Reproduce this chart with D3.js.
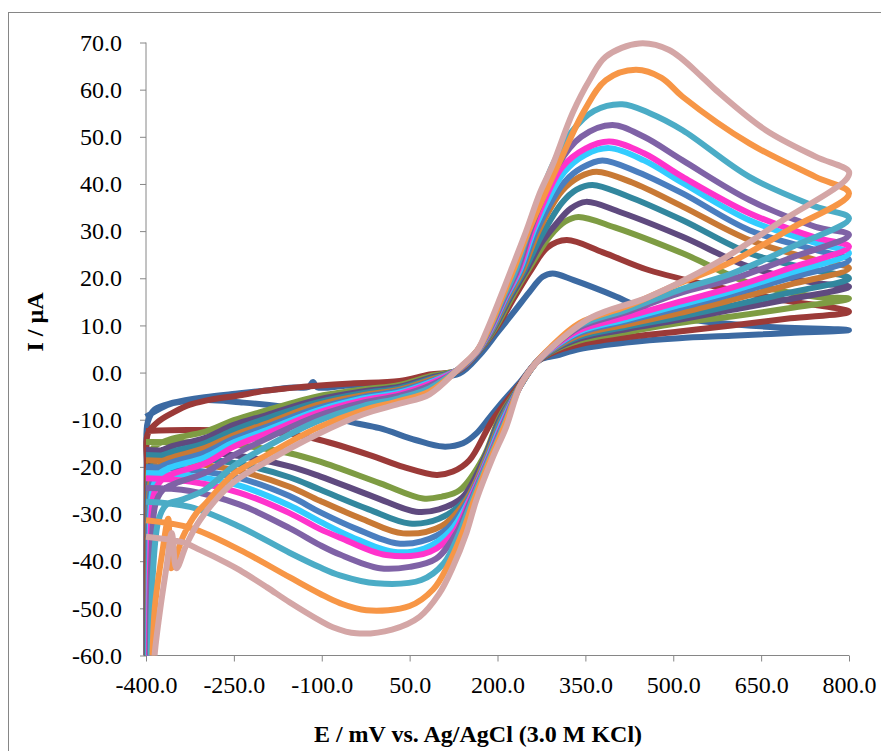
<!DOCTYPE html>
<html>
<head>
<meta charset="utf-8">
<script src="https://cdn.jsdelivr.net/npm/d3@7"></script>
<style>
  body { margin: 0; background: #fff; }
  .axis text { font-family: "Liberation Serif", "Times New Roman", serif; font-size: 24px; fill: #000; }
  .axis path, .axis line { stroke: #868686; }
  .title { font-family: "Liberation Serif", "Times New Roman", serif; font-size: 24px; font-weight: bold; }
</style>
</head>
<body>
<div class="wrapper"></div>
<script>
// cyclic voltammograms, one array of [E (mV), I (uA)] per scan, forward then reverse sweep
var scan1 = [[-399.5,-66],[-399,-20],[-397,-10.5],[-385,-7.8],[-354,-6.4],[-300,-5.2],[-240,-4.4],[-194,-3.8],[-155,-3.2],[-122,-3.0],[-115,-2.0],[-108,-3.1],[-60,-2.8],[0,-2.5],[33,-2.2],[84,-1.0],[135,-0.2],[170,3.8],[200,8.5],[232,13.5],[254,17],[277,20.3],[294,21.0],[330,19.6],[403,16.1],[460,13.0],[545,11.0],[650,9.8],[800,9.0],
  [700,8.4],[600,7.8],[510,7.3],[420,6.4],[340,5.0],[300,3.6],[272,2.7],[238,-2.1],[203,-7.0],[186,-9.6],[164,-12.9],[141,-15],[107,-15.7],[60,-14.3],[-1,-11.8],[-50,-10.5],[-100,-8.8],[-170,-7.2],[-240,-6.3],[-297,-5.8],[-354,-6.5],[-400,-9.4]];
var scan2 = [[-399,-66],[-398.5,-20],[-397,-13],[-380,-10.5],[-354,-8.5],[-325,-6.8],[-300,-6.0],[-240,-4.8],[-194,-3.8],[-155,-3.3],[-109,-2.8],[-50,-2.3],[33,-1.8],[84,-0.4],[135,0.5],[166,4.2],[196,9],[229,16],[257,21.7],[285,26.5],[318,28.1],[380,25.5],[459,21.7],[573,18.2],[686,15.4],[800,12.9],
  [700,11.5],[600,10.0],[510,8.7],[420,7.5],[340,6.0],[290,4.0],[265,2.0],[238,-2.5],[192,-10],[152,-18.6],[124,-21],[96,-21.7],[39,-20],[-18,-17.5],[-103,-14.3],[-155,-13.0],[-250,-12.3],[-330,-12.2],[-400,-12.4]];
var scan3 = [[-398,-66],[-397,-40],[-395,-20],[-388,-16],[-360,-14.2],[-300,-12.6],[-250,-10.1],[-194,-8],[-109,-5.1],[-30,-3.6],[33,-2.6],[84,-0.8],[135,0.6],[166,4.3],[194,9],[225,16],[252,21.7],[290,29],[315,32],[338,33],[400,30.8],[516,25.3],[630,19],[743,16.1],[800,15.7],
  [700,13.7],[600,11.9],[510,10.5],[420,8.6],[340,6.8],[290,4.3],[265,2.0],[238,-2.8],[204,-9.4],[176,-18],[135,-25],[105,-26.3],[73,-26.7],[0,-23.5],[-103,-18.9],[-155,-17.1],[-240,-15.4],[-325,-14.8],[-400,-14.7]];
var scan4 = [[-398,-66],[-396.5,-40],[-394,-21],[-385,-17.5],[-360,-15.8],[-300,-13.9],[-250,-11.1],[-194,-9],[-109,-5.8],[-30,-4.0],[33,-3.0],[84,-1.1],[135,0.6],[166,4.4],[192,9],[222,16],[249,21.7],[275,27.5],[300,31.5],[325,34.8],[351,36.2],[410,34],[516,28.8],[630,22.4],[743,19],[800,18.2],
  [700,15.6],[600,13.3],[510,11.2],[420,9.2],[340,7.2],[290,4.4],[265,2.0],[238,-3],[205,-9.6],[178,-18],[140,-26.5],[100,-29],[61,-29.5],[-10,-26.4],[-103,-22],[-155,-19.9],[-240,-17.7],[-325,-16.8],[-400,-16.4]];
var scan5 = [[-397.5,-66],[-396,-40],[-393,-22],[-383,-18.5],[-360,-17],[-300,-15],[-250,-12.2],[-194,-9.7],[-109,-6.4],[-30,-4.4],[33,-3.3],[84,-1.4],[135,0.7],[166,4.4],[191,9],[220,16],[246,21.7],[275,29],[310,36],[335,38.8],[362,39.8],[420,37.5],[516,32.3],[630,25.3],[743,21.7],[800,20],
  [700,17],[600,14.2],[510,11.8],[420,9.7],[340,7.6],[290,4.5],[265,2.0],[238,-3],[206,-9.8],[180,-18],[145,-27],[100,-31],[50,-32],[-20,-29],[-103,-24.8],[-155,-22.2],[-240,-19.4],[-325,-18],[-400,-17.5]];
var scan6 = [[-397,-66],[-395.5,-40],[-392,-23],[-382,-19.5],[-360,-18.2],[-300,-16],[-250,-13.3],[-194,-10.8],[-109,-6.9],[-30,-4.8],[33,-3.6],[84,-1.6],[135,0.7],[166,4.5],[190,9],[218,16],[243,21.7],[270,30],[310,38.5],[340,41.5],[369,42.6],[430,40.3],[516,35.2],[630,28.1],[743,23.9],[800,22.1],
  [700,18.7],[600,15.4],[510,12.6],[420,10.2],[340,8.0],[290,4.6],[265,2.0],[238,-3],[207,-10],[181,-18],[147,-27],[105,-32.5],[39,-34.1],[-30,-31.1],[-103,-27.2],[-155,-24.2],[-240,-20.9],[-325,-19.2],[-400,-18.6]];
var scan7 = [[-396.5,-66],[-395,-40],[-391,-24],[-380,-20.5],[-360,-19.2],[-300,-17],[-250,-14],[-194,-11.5],[-109,-7.6],[-30,-5.2],[33,-3.9],[84,-1.9],[135,0.7],[166,4.5],[189,9],[216,16],[240,21.7],[268,30.5],[315,40.5],[345,43.5],[379,45],[440,42.5],[516,38],[630,30.2],[743,26],[800,23.9],
  [700,20.1],[600,16.6],[510,13.7],[420,10.9],[340,8.4],[290,4.7],[265,2.0],[238,-3],[208,-10.1],[183,-18],[150,-27],[115,-33],[70,-35.8],[27,-36.2],[-40,-33.2],[-103,-29.6],[-155,-26.2],[-240,-22.4],[-325,-20.6],[-400,-20]];
var scan8 = [[-396,-66],[-394,-40],[-389,-25],[-378,-21.5],[-360,-20.2],[-300,-18],[-250,-14.8],[-194,-12.2],[-109,-8.1],[-30,-5.5],[33,-4.2],[84,-2.1],[135,0.8],[166,4.6],[188,9],[214,16],[238,21.7],[265,31],[314,42.5],[350,46.2],[391,47.6],[450,45],[516,40.2],[630,32.3],[743,27.5],[800,25.3],
  [700,21.2],[600,17.3],[510,14.3],[420,11.3],[340,8.7],[290,4.8],[265,2.0],[238,-3],[209,-10.3],[184,-18],[152,-27],[120,-33.5],[75,-37.3],[22,-38],[-50,-34.8],[-103,-31.6],[-155,-28.2],[-240,-24],[-325,-21.9],[-400,-21.3]];
var scan9 = [[-395,-66],[-393,-40],[-387,-26],[-375,-23],[-355,-21.5],[-300,-19.3],[-250,-15.7],[-194,-12.9],[-109,-8.6],[-30,-5.9],[33,-4.5],[84,-2.4],[135,0.8],[166,4.6],[187,9],[213,16],[236,21.7],[262,31],[310,43.5],[350,47.5],[391,49],[450,46.5],[516,41.5],[630,33.8],[743,28.6],[800,26.7],
  [700,22.2],[600,18.0],[510,15.0],[420,11.8],[340,9.0],[290,4.9],[265,2.0],[238,-3],[210,-10.5],[185,-18],[153,-27],[125,-34],[85,-38],[10,-38.7],[-69,-35],[-103,-33.2],[-155,-29.8],[-240,-25.5],[-325,-23.1],[-400,-22.4]];
var scan10 = [[-394,-66],[-391,-40],[-384,-28],[-372,-25],[-350,-23.5],[-300,-21.3],[-250,-17.5],[-194,-14],[-109,-9.3],[-30,-6.4],[33,-4.9],[84,-2.8],[135,0.8],[166,4.7],[186,9],[212,16],[234,21.7],[260,31.5],[303,44],[343,50],[396,52.5],[450,50],[516,45],[630,36.6],[743,30.9],[800,29.2],
  [700,24.3],[600,19.8],[510,16.8],[420,12.8],[340,9.6],[290,5.0],[265,2.0],[238,-3],[211,-10.6],[186,-18],[155,-27],[130,-34],[95,-39.5],[50,-41.2],[-1,-41.5],[-69,-38.6],[-103,-36.6],[-155,-33.0],[-240,-28.0],[-325,-25.1],[-400,-24.5]];
var scan11 = [[-392,-66],[-388,-42],[-378,-31],[-365,-28],[-340,-27],[-300,-24.9],[-250,-19.8],[-194,-15.7],[-109,-10.4],[-30,-7.1],[33,-5.4],[84,-3.3],[135,0.9],[166,4.7],[185,9],[210,16],[231,21.7],[258,32],[294,44],[326,51],[365,55.5],[413,56.9],[460,55],[516,51.4],[630,41.5],[743,35.2],[800,32.7],
  [700,26.5],[600,21.0],[510,17.5],[420,13.3],[340,10.0],[290,5.1],[265,2.0],[238,-3],[212,-10.8],[187,-18],[157,-27],[135,-34],[108,-40.5],[70,-44],[-7,-44.7],[-69,-43],[-103,-41.3],[-155,-38.2],[-240,-32.7],[-325,-28.5],[-400,-27.4]];
var scan12 = [[-390,-66],[-385,-50],[-372,-38],[-362,-31],[-357,-41.5],[-337,-34.8],[-314,-29.8],[-300,-28],[-250,-21.5],[-194,-17.5],[-109,-11.8],[-30,-8],[33,-6],[84,-4],[135,0.9],[166,4.8],[184,9],[208,16],[227,21.7],[253,30],[283,38.5],[309,45.5],[348,55.5],[385,62],[436,64.2],[480,62.5],[516,58.5],[630,48.6],[743,41.5],[800,38],
  [700,30.5],[600,23.5],[510,18.9],[420,14.0],[340,10.5],[290,5.3],[265,2.0],[238,-3],[213,-11],[189,-18],[160,-27],[140,-34],[115,-41],[90,-46],[50,-49.5],[-24,-50.4],[-69,-48.9],[-103,-46.9],[-155,-43.4],[-240,-37.6],[-325,-32.9],[-400,-31.3]];
var scan13 = [[-388,-66],[-385,-59.5],[-376,-50.4],[-365,-41.2],[-356,-34],[-348,-41.5],[-331,-36.5],[-308,-31.3],[-252,-23.4],[-194,-18.9],[-109,-13.2],[-30,-8.9],[33,-6.6],[84,-4.6],[135,1.0],[166,4.8],[182,9],[205,16],[223,21.7],[249,30],[272,38],[294,44],[328,55],[357,62],[385,67],[442,69.8],[493,68.4],[549,62.7],[573,59.9],[658,51.4],[743,45.8],[800,42.6],
  [794,40.8],[687,32.3],[573,23.2],[459,16.1],[362,11.8],[294,5.5],[260,1.2],[238,-3],[215,-11.5],[192,-18],[164,-27],[147,-34],[124,-41.2],[100,-47],[67,-51.8],[20,-54.5],[-41,-55.3],[-81,-54.0],[-103,-52.6],[-155,-48.7],[-194,-45.5],[-240,-41.9],[-262,-40.4],[-308,-37.6],[-337,-36.0],[-400,-34.8]];

var scans = [scan1, scan2, scan3, scan4, scan5, scan6, scan7, scan8, scan9, scan10, scan11, scan12, scan13];
var colors = ["#3C6AA2", "#9B3A38", "#7E9C43", "#5F4A7F", "#32879E", "#C87935", "#4A7EBF",
              "#33CCFF", "#FF33CC", "#7F62A6", "#4BACC6", "#F79646", "#D4A6A6"];
var xTicks = [-400, -250, -100, 50, 200, 350, 500, 650, 800];
var yTicks = [-60, -50, -40, -30, -20, -10, 0, 10, 20, 30, 40, 50, 60, 70];

var W = 881, H = 751;
var plot = {left: 146, right: 849, top: 42.5, bottom: 655.5};

var svg = d3.select(".wrapper")
  .append("svg")
    .attr("width", W)
    .attr("height", H);

// outer chart frame (right and bottom edges fall outside the picture)
svg.append("rect")
  .attr("x", 8.5).attr("y", 12.5)
  .attr("width", 1000).attr("height", 1000)
  .attr("fill", "none")
  .attr("stroke", "#868686");

var x = d3.scaleLinear().domain([-400, 800]).range([plot.left, plot.right]);
var y = d3.scaleLinear().domain([-60, 70]).range([plot.bottom, plot.top]);

var fmt = function(d) { return d.toFixed(1); };

svg.append("defs").append("clipPath").attr("id", "clip")
  .append("rect")
    .attr("x", plot.left - 10).attr("y", 0)
    .attr("width", plot.right - plot.left + 20)
    .attr("height", plot.bottom);

// axes
svg.append("g")
  .attr("class", "axis")
  .attr("transform", "translate(" + plot.left + ",0)")
  .call(d3.axisLeft(y).tickValues(yTicks).tickSize(6).tickPadding(18).tickFormat(fmt))
  .call(function(g) { g.select(".domain").attr("d", "M0," + plot.top + "V" + plot.bottom); });

svg.append("g")
  .attr("class", "axis")
  .attr("transform", "translate(0," + plot.bottom + ")")
  .call(d3.axisBottom(x).tickValues(xTicks).tickSize(6).tickPadding(14).tickFormat(fmt))
  .call(function(g) { g.select(".domain").attr("d", "M" + plot.left + ",0H" + plot.right); });

// curves
var line = d3.line()
  .x(function(d) { return x(d[0]); })
  .y(function(d) { return y(d[1]); })
  .curve(d3.curveCatmullRom.alpha(0.5));

svg.append("g")
  .attr("clip-path", "url(#clip)")
  .selectAll("path")
  .data(scans)
  .enter()
  .append("path")
    .attr("d", line)
    .style("fill", "none")
    .style("stroke", function(d, i) { return colors[i]; })
    .style("stroke-width", 6)
    .style("stroke-linejoin", "round");

// axis titles
svg.append("text")
  .attr("class", "title")
  .attr("transform", "translate(43,322) rotate(-90)")
  .attr("text-anchor", "middle")
  .text("I / µA");

svg.append("text")
  .attr("class", "title")
  .attr("x", 478).attr("y", 742)
  .attr("text-anchor", "middle")
  .text("E / mV vs. Ag/AgCl (3.0 M KCl)");
</script>
</body>
</html>
